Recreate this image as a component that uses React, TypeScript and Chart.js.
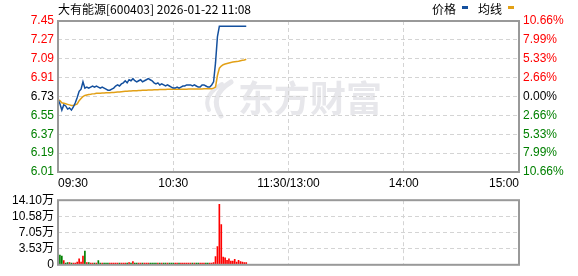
import React, { useEffect, useRef } from 'react';
import { Chart, registerables } from 'chart.js';

Chart.register(...registerables);

const title = '大有能源[600403] 2026-01-22 11:08';
const legendLabels = ['价格', '均线'];
const watermark = '东方财富';
const preClose = 6.73;

const priceTicks = [6.01, 6.19, 6.37, 6.55, 6.73, 6.91, 7.09, 7.27, 7.45];
const pctLabels = ['10.66%', '7.99%', '5.33%', '2.66%', '0.00%', '2.66%', '5.33%', '7.99%', '10.66%'];
const timeTicks = [0, 60, 120, 180, 240];
const timeLabels = ['09:30', '10:30', '11:30/13:00', '14:00', '15:00'];
const volTicks = [0, 3.53, 7.05, 10.58, 14.1];
const volTickLabels = ['0', '3.53万', '7.05万', '10.58万', '14.10万'];

// one value per minute from 09:30 to 11:08
const price = [
  6.70, 6.66, 6.60, 6.65, 6.64, 6.61, 6.62, 6.60, 6.63, 6.67,
  6.72, 6.78, 6.80, 6.87, 6.81, 6.82, 6.81, 6.82, 6.83, 6.82,
  6.83, 6.82, 6.81, 6.82, 6.81, 6.80, 6.79, 6.79, 6.80, 6.81,
  6.83, 6.84, 6.83, 6.85, 6.86, 6.88, 6.86, 6.89, 6.88, 6.90,
  6.88, 6.87, 6.88, 6.89, 6.87, 6.88, 6.89, 6.90, 6.89, 6.88,
  6.86, 6.85, 6.86, 6.84, 6.85, 6.84, 6.83, 6.84, 6.83, 6.82,
  6.81, 6.81, 6.82, 6.81, 6.82, 6.83, 6.83, 6.84, 6.84, 6.84,
  6.83, 6.84, 6.83, 6.82, 6.82, 6.84, 6.84, 6.83, 6.82, 6.82,
  6.84, 6.87, 7.05, 7.30, 7.40, 7.40, 7.40, 7.40, 7.40, 7.40,
  7.40, 7.40, 7.40, 7.40, 7.40, 7.40, 7.40, 7.40, 7.40,
];

const avgPrice = [
  6.70, 6.69, 6.67, 6.665, 6.66, 6.655, 6.65, 6.645, 6.645, 6.65,
  6.66, 6.69, 6.71, 6.73, 6.74, 6.745, 6.75, 6.752, 6.755, 6.757,
  6.76, 6.76, 6.762, 6.763, 6.764, 6.765, 6.765, 6.766, 6.767, 6.768,
  6.77, 6.772, 6.774, 6.776, 6.778, 6.78, 6.781, 6.782, 6.783, 6.784,
  6.785, 6.786, 6.787, 6.788, 6.789, 6.79, 6.79, 6.791, 6.792, 6.793,
  6.794, 6.795, 6.795, 6.796, 6.796, 6.797, 6.797, 6.798, 6.798, 6.798,
  6.799, 6.799, 6.799, 6.80, 6.80, 6.80, 6.80, 6.80, 6.801, 6.801,
  6.801, 6.801, 6.802, 6.802, 6.802, 6.802, 6.803, 6.803, 6.803, 6.803,
  6.804, 6.81, 6.82, 6.93, 7.00, 7.02, 7.033, 7.04, 7.045, 7.05,
  7.055, 7.058, 7.061, 7.064, 7.067, 7.071, 7.075, 7.079, 7.085,
];

// volume in 万 shares
const volume = [
  1.5, 2.1, 1.9, 0.9, 0.4, 0.5, 0.5, 0.4, 0.4, 0.4,
  0.6, 1.3, 0.6, 1.9, 3.0, 0.5, 0.5, 0.4, 0.4, 0.4,
  0.4, 0.9, 0.4, 0.4, 0.4, 0.4, 0.4, 0.4, 0.4, 0.4,
  0.4, 0.4, 0.4, 0.4, 0.4, 0.4, 0.4, 0.5, 0.4, 0.7,
  0.4, 0.4, 0.4, 0.4, 0.4, 0.4, 0.4, 0.4, 0.4, 0.4,
  0.4, 0.4, 0.4, 0.4, 0.4, 0.4, 0.4, 0.4, 0.4, 0.4,
  0.4, 0.4, 0.4, 0.4, 0.4, 0.4, 0.4, 0.4, 0.4, 0.4,
  0.4, 0.4, 0.4, 0.4, 0.4, 0.4, 0.4, 0.4, 0.4, 0.4,
  0.4, 0.5, 1.8, 4.0, 13.2, 8.8, 1.7, 1.5, 1.0, 1.3,
  0.8, 0.8, 1.2, 0.6, 1.0, 0.7, 0.6, 0.5, 0.5,
];

const BLUE = '#14509e';
const ORANGE = '#e2a016';
const RED = '#ff0000';
const GREEN = '#008000';
const GRID = '#d4d4d4';
const BORDER = '#999999';
const FONT = "Arial, 'Liberation Sans', 'Noto Sans CJK SC', sans-serif";
const CJK = "'Noto Sans CJK SC', sans-serif";

const priceColor = (v: number) =>
  Math.abs(v - preClose) < 1e-6 ? '#000000' : v > preClose ? RED : GREEN;

const frame = {
  id: 'frame',
  beforeDraw(chart: any) {
    const { ctx, width, height } = chart;
    ctx.save();
    ctx.fillStyle = '#ffffff';
    ctx.fillRect(0, 0, width, height);
    ctx.restore();
  },
  afterDraw(chart: any) {
    const { ctx, chartArea: a } = chart;
    ctx.save();
    ctx.strokeStyle = BORDER;
    ctx.lineWidth = 2;
    ctx.strokeRect(a.left, a.top, a.right - a.left, a.bottom - a.top);
    ctx.restore();
  },
};

const decor = {
  id: 'decor',
  beforeDraw(chart: any) {
    const { ctx } = chart;
    ctx.save();
    ctx.fillStyle = '#e7e7eb';
    ctx.strokeStyle = '#e7e7eb';
    ctx.font = `bold 36px ${CJK}`;
    ctx.textBaseline = 'middle';
    ctx.fillText(watermark, 238, 98);
    ctx.lineCap = 'round';
    ctx.lineWidth = 5;
    ctx.beginPath();
    ctx.moveTo(231, 82);
    ctx.quadraticCurveTo(208, 96, 221, 116);
    ctx.stroke();
    ctx.lineWidth = 4;
    ctx.beginPath();
    ctx.moveTo(222, 84);
    ctx.quadraticCurveTo(202, 96, 209, 110);
    ctx.stroke();
    ctx.restore();
  },
  afterDraw(chart: any) {
    const { ctx } = chart;
    ctx.save();
    ctx.fillStyle = '#000000';
    ctx.textBaseline = 'middle';
    ctx.font = `12px ${CJK}`;
    ctx.fillText(title, 58, 9);
    ctx.fillText(legendLabels[0], 432, 9);
    ctx.fillText(legendLabels[1], 478, 9);
    ctx.fillStyle = BLUE;
    ctx.fillRect(462, 6, 6, 3);
    ctx.fillStyle = ORANGE;
    ctx.fillRect(508, 6, 6, 3);
    ctx.restore();
  },
};

const xScale = (showLabels: boolean, h: number) => ({
  type: 'linear',
  min: 0,
  max: 240,
  offset: false,
  afterBuildTicks: (s: any) => {
    s.ticks = timeTicks.map((v) => ({ value: v }));
  },
  afterFit: (s: any) => {
    s.height = h;
  },
  ticks: {
    display: showLabels,
    autoSkip: false,
    maxRotation: 0,
    align: 'inner',
    padding: 4,
    color: '#000000',
    font: { family: FONT, size: 12 },
    callback: (_v: any, i: number) => timeLabels[i],
  },
  grid: { color: GRID, lineWidth: 1, drawTicks: false, offset: false },
  border: { display: false, dash: [4, 3] },
});

export default function App() {
  const priceRef = useRef<HTMLCanvasElement>(null);
  const volRef = useRef<HTMLCanvasElement>(null);

  useEffect(() => {
    const minutes = price.map((_, i) => i);
    const priceChart = new Chart(priceRef.current as HTMLCanvasElement, {
      type: 'line',
      data: {
        datasets: [
          {
            label: legendLabels[0],
            data: minutes.map((m) => ({ x: m, y: price[m] })),
            borderColor: BLUE,
            borderWidth: 1.5,
            pointRadius: 0,
            fill: false,
            yAxisID: 'y',
          },
          {
            label: legendLabels[1],
            data: minutes.map((m) => ({ x: m, y: avgPrice[m] })),
            borderColor: ORANGE,
            borderWidth: 1.5,
            pointRadius: 0,
            fill: false,
            yAxisID: 'y',
          },
        ],
      },
      options: {
        responsive: false,
        animation: false,
        events: [],
        layout: { padding: { top: 21, left: 0, right: 0, bottom: 0 } },
        plugins: { legend: { display: false }, tooltip: { enabled: false } },
        scales: {
          x: xScale(true, 18) as any,
          y: {
            type: 'linear',
            position: 'left',
            min: priceTicks[0],
            max: priceTicks[priceTicks.length - 1],
            afterBuildTicks: (s: any) => {
              s.ticks = priceTicks.map((v) => ({ value: v }));
            },
            afterFit: (s: any) => {
              s.width = 58;
            },
            ticks: {
              autoSkip: false,
              padding: 4,
              font: { family: FONT, size: 12 },
              color: (c: any) => priceColor(c.tick.value),
              callback: (v: any) => Number(v).toFixed(2),
            },
            grid: { color: GRID, lineWidth: 1, drawTicks: false },
            border: { display: false, dash: [4, 3] },
          },
          y2: {
            type: 'linear',
            position: 'right',
            min: priceTicks[0],
            max: priceTicks[priceTicks.length - 1],
            afterBuildTicks: (s: any) => {
              s.ticks = priceTicks.map((v) => ({ value: v }));
            },
            afterFit: (s: any) => {
              s.width = 59;
            },
            ticks: {
              autoSkip: false,
              padding: 4,
              font: { family: FONT, size: 12 },
              color: (c: any) => priceColor(c.tick.value),
              callback: (_v: any, i: number) => pctLabels[i],
            },
            grid: { display: false, drawTicks: false },
            border: { display: false },
          },
        },
      } as any,
      plugins: [frame, decor],
    });

    const volColors = minutes.map((m) => {
      const prev = m === 0 ? preClose : price[m - 1];
      return price[m] >= prev ? RED : GREEN;
    });

    const volChart = new Chart(volRef.current as HTMLCanvasElement, {
      type: 'bar',
      data: {
        datasets: [
          {
            label: 'volume',
            data: minutes.map((m) => ({ x: m, y: volume[m] })),
            backgroundColor: volColors,
            borderWidth: 0,
            barThickness: 1,
          },
        ],
      },
      options: {
        responsive: false,
        animation: false,
        events: [],
        layout: { padding: { top: 7, left: 0, right: 59, bottom: 0 } },
        plugins: { legend: { display: false }, tooltip: { enabled: false } },
        scales: {
          x: xScale(false, 6) as any,
          y: {
            type: 'linear',
            position: 'left',
            min: volTicks[0],
            max: volTicks[volTicks.length - 1],
            afterBuildTicks: (s: any) => {
              s.ticks = volTicks.map((v) => ({ value: v }));
            },
            afterFit: (s: any) => {
              s.width = 58;
            },
            ticks: {
              autoSkip: false,
              padding: 4,
              color: '#000000',
              font: { family: FONT, size: 12 },
              callback: (_v: any, i: number) => volTickLabels[i],
            },
            grid: { color: GRID, lineWidth: 1, drawTicks: false },
            border: { display: false, dash: [4, 3] },
          },
        },
      } as any,
      plugins: [frame],
    });

    return () => {
      priceChart.destroy();
      volChart.destroy();
    };
  }, []);

  return (
    <div style={{ position: 'absolute', left: 0, top: 0, width: 578, height: 276, background: '#ffffff' }}>
      <canvas
        ref={priceRef}
        width={578}
        height={190}
        style={{ position: 'absolute', left: 0, top: 0, display: 'block' }}
      />
      <canvas
        ref={volRef}
        width={578}
        height={87}
        style={{ position: 'absolute', left: 0, top: 189, display: 'block' }}
      />
    </div>
  );
}
